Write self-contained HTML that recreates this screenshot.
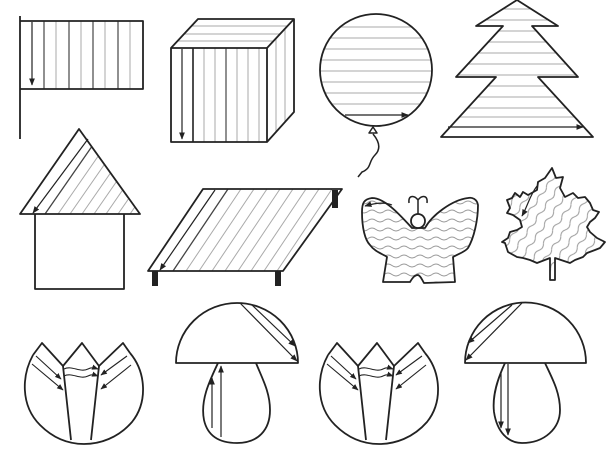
<!DOCTYPE html>
<html><head><meta charset="utf-8"><style>html,body{margin:0;padding:0;background:#fff}svg{display:block}</style></head>
<body>
<svg width="613" height="466" viewBox="0 0 613 466" xmlns="http://www.w3.org/2000/svg">
<defs>
<marker id="ar" viewBox="0 0 10 10" refX="9" refY="5" markerWidth="6" markerHeight="6" orient="auto"><path d="M0,1 L10,5 L0,9 Z" fill="#222"/></marker>
<pattern id="wav" width="16" height="9" patternUnits="userSpaceOnUse"><path d="M0,4.5 q4,-3 8,0 t8,0" fill="none" stroke="#999" stroke-width="1"/></pattern>
<pattern id="wav2" width="16" height="10" patternUnits="userSpaceOnUse" patternTransform="rotate(-55)"><path d="M0,5 q4,-3 8,0 t8,0" fill="none" stroke="#999" stroke-width="1"/></pattern>
<clipPath id="cb"><circle cx="376" cy="70" r="56"/></clipPath>
<clipPath id="ct"><polygon points="517,0 558,26 532,26 578,77 538,77 593,137 441,137 496,77 456,77 503,26 476,26"/></clipPath>
<clipPath id="cr"><polygon points="79,129 140,214 20,214"/></clipPath>
<clipPath id="ctb"><polygon points="203,189 342,189 283,271 148,271"/></clipPath>
</defs>
<g fill="none" stroke="#222" stroke-width="1.8" stroke-linejoin="round">

<!-- flag -->
<g stroke="#aaa" stroke-width="1"><line x1="56" y1="21" x2="56" y2="89"/><line x1="81" y1="21" x2="81" y2="89"/><line x1="105" y1="21" x2="105" y2="89"/><line x1="130" y1="21" x2="130" y2="89"/></g>
<g stroke="#555" stroke-width="1.3"><line x1="44" y1="21" x2="44" y2="89"/><line x1="69" y1="21" x2="69" y2="89"/><line x1="93" y1="21" x2="93" y2="89"/><line x1="118" y1="21" x2="118" y2="89"/></g>
<line x1="32" y1="22" x2="32" y2="85" stroke-width="1.2" marker-end="url(#ar)"/>
<line x1="20" y1="16" x2="20" y2="139"/>
<polyline points="20,21 143,21 143,89 20,89"/>

<!-- cube -->
<g stroke="#aaa" stroke-width="1">
<line x1="204" y1="48" x2="204" y2="142"/><line x1="215" y1="48" x2="215" y2="142"/><line x1="237" y1="48" x2="237" y2="142"/><line x1="248" y1="48" x2="248" y2="142"/><line x1="259" y1="48" x2="259" y2="142"/>
<line x1="276" y1="38" x2="276" y2="132"/><line x1="285" y1="29" x2="285" y2="122"/>
<line x1="191" y1="26" x2="288" y2="26"/><line x1="184" y1="34" x2="281" y2="34"/><line x1="178" y1="41" x2="274" y2="41"/>
</g>
<line x1="226" y1="48" x2="226" y2="142" stroke="#555" stroke-width="1.3"/>
<line x1="193" y1="48" x2="193" y2="142" stroke-width="1.6"/>
<line x1="182" y1="49" x2="182" y2="139" stroke-width="1.2" marker-end="url(#ar)"/>
<polygon points="171,48 267,48 267,142 171,142"/>
<polyline points="171,48 198,19 294,19 294,112 267,142"/>
<line x1="267" y1="48" x2="294" y2="19"/>

<!-- balloon -->
<g clip-path="url(#cb)" stroke="#aaa" stroke-width="1">
<line x1="310" y1="27" x2="440" y2="27"/><line x1="310" y1="38" x2="440" y2="38"/><line x1="310" y1="49" x2="440" y2="49"/><line x1="310" y1="60" x2="440" y2="60"/><line x1="310" y1="71" x2="440" y2="71"/><line x1="310" y1="82" x2="440" y2="82"/><line x1="310" y1="93" x2="440" y2="93"/><line x1="310" y1="104" x2="440" y2="104"/>
</g>
<line x1="345" y1="115" x2="408" y2="115" stroke-width="1.2" marker-end="url(#ar)"/>
<circle cx="376" cy="70" r="56"/>
<polygon points="373,127 369,133 377,133" stroke-width="1.5"/>
<path d="M373,134 C378,140 382,148 375,155 C368,162 372,168 362,172 L358,177" stroke-width="1.5"/>

<!-- tree -->
<g clip-path="url(#ct)" stroke="#aaa" stroke-width="1">
<line x1="430" y1="9" x2="600" y2="9"/><line x1="430" y1="20" x2="600" y2="20"/><line x1="430" y1="31" x2="600" y2="31"/><line x1="430" y1="42" x2="600" y2="42"/><line x1="430" y1="53" x2="600" y2="53"/><line x1="430" y1="64" x2="600" y2="64"/><line x1="430" y1="75" x2="600" y2="75"/><line x1="430" y1="86" x2="600" y2="86"/><line x1="430" y1="97" x2="600" y2="97"/><line x1="430" y1="108" x2="600" y2="108"/><line x1="430" y1="117" x2="600" y2="117"/>
</g>
<line x1="448" y1="127" x2="583" y2="127" stroke-width="1.2" marker-end="url(#ar)"/>
<polygon points="517,0 558,26 532,26 578,77 538,77 593,137 441,137 496,77 456,77 503,26 476,26"/>

<!-- house -->
<g clip-path="url(#cr)" stroke="#aaa" stroke-width="1">
<line x1="58" y1="214" x2="117" y2="129"/><line x1="70" y1="214" x2="129" y2="129"/><line x1="82" y1="214" x2="141" y2="129"/><line x1="94" y1="214" x2="153" y2="129"/><line x1="106" y1="214" x2="165" y2="129"/><line x1="118" y1="214" x2="177" y2="129"/><line x1="130" y1="214" x2="189" y2="129"/>
</g>
<line x1="45" y1="214" x2="104" y2="129" stroke="#444" stroke-width="1.3" clip-path="url(#cr)"/>
<line x1="88" y1="139" x2="33" y2="213" stroke-width="1.2" marker-end="url(#ar)"/>
<polygon points="79,129 140,214 20,214"/>
<polyline points="35,214 35,289 124,289 124,214"/>

<!-- table -->
<g clip-path="url(#ctb)" stroke="#aaa" stroke-width="1">
<line x1="186" y1="271" x2="241" y2="189"/><line x1="199" y1="271" x2="254" y2="189"/><line x1="212" y1="271" x2="267" y2="189"/><line x1="225" y1="271" x2="280" y2="189"/><line x1="238" y1="271" x2="293" y2="189"/><line x1="251" y1="271" x2="306" y2="189"/><line x1="264" y1="271" x2="319" y2="189"/><line x1="277" y1="271" x2="332" y2="189"/><line x1="290" y1="271" x2="345" y2="189"/>
</g>
<line x1="173" y1="271" x2="228" y2="189" stroke="#444" stroke-width="1.3"/>
<line x1="215" y1="190" x2="160" y2="270" stroke-width="1.2" marker-end="url(#ar)"/>
<polygon points="203,189 342,189 283,271 148,271"/>
<g fill="#222" stroke="none"><rect x="152" y="271" width="6" height="15"/><rect x="275" y="271" width="6" height="15"/><rect x="332" y="190" width="6" height="18"/></g>

<!-- butterfly -->
<path d="M412,228 C400,215 385,198 372,198 C364,199 362,203 362,212 C362,228 365,240 370,245 C375,252 383,254 387,257 L383,282 L410,282 C413,277 415,275 418,275 C421,276 422,280 424,283 L455,282 L453,257 C458,254 465,252 468,248 C474,238 478,220 478,205 C477,199 472,197 468,198 C452,200 432,215 425,228 Z" fill="url(#wav)"/>
<circle cx="418" cy="221" r="7" fill="#fff"/>
<path d="M418,214 L418,199 M418,200 C414,195 408,195 409,203 M418,200 C422,195 428,195 427,203" stroke-width="1.5"/>
<path d="M392,205 C385,202 375,203 365,206" stroke-width="1.2" marker-end="url(#ar)"/>

<!-- leaf -->
<polygon fill="url(#wav2)" points="552,168 556,178 563,177 560,188 565,197 573,193 578,198 585,197 590,203 593,210 599,212 595,218 590,222 587,227 590,232 597,238 605,242 600,248 595,250 587,253 583,257 575,260 570,263 555,258 555,280 550,280 550,258 537,263 530,260 523,258 517,257 508,252 505,243 502,242 508,238 510,232 517,230 522,227 520,220 513,215 507,213 510,208 507,200 512,198 515,193 520,197 523,192 528,195 537,190 538,182 545,178"/>
<path d="M537,186 C530,195 528,205 522,216" stroke-width="1.2" marker-end="url(#ar)"/>

<!-- tulips -->
<g id="tul">
<path d="M33,355 C22,375 20,405 40,425 C55,440 70,444 84,444 C100,444 118,438 132,422 C148,402 146,372 130,353"/>
<polyline points="33,355 42,343 63,366 82,343 99,366 123,343 130,353"/>
<line x1="63" y1="366" x2="71" y2="440"/><line x1="99" y1="366" x2="91" y2="440"/>
<path d="M64,369 C72,365 80,373 88,369 C92,367 95,368 98,369" stroke-width="1.1" marker-end="url(#ar)"/>
<path d="M64,376 C72,372 80,380 88,376 C92,374 95,375 98,376" stroke-width="1.1" marker-end="url(#ar)"/>
<line x1="36" y1="356" x2="61" y2="379" stroke-width="1.1" marker-end="url(#ar)"/>
<line x1="32" y1="364" x2="63" y2="390" stroke-width="1.1" marker-end="url(#ar)"/>
<line x1="127" y1="356" x2="101" y2="375" stroke-width="1.1" marker-end="url(#ar)"/>
<line x1="131" y1="365" x2="101" y2="389" stroke-width="1.1" marker-end="url(#ar)"/>
</g>
<use href="#tul" transform="translate(295,0)"/>

<!-- mushroom 1 -->
<path d="M176,363 A61,60 0 0 1 298,363 Z"/>
<path d="M218,363 C210,380 200,400 204,420 C208,438 222,443 237,443 C258,443 270,430 270,410 C270,392 262,378 256,363"/>
<line x1="240" y1="303" x2="297" y2="361" stroke-width="1.2" marker-end="url(#ar)"/>
<line x1="252" y1="305" x2="295" y2="346" stroke-width="1.2" marker-end="url(#ar)"/>
<line x1="221" y1="437" x2="221" y2="366" stroke-width="1.2" marker-end="url(#ar)"/>
<line x1="212" y1="428" x2="212" y2="378" stroke-width="1.2" marker-end="url(#ar)"/>

<!-- mushroom 2 -->
<path d="M465,363 A60,60 0 0 1 586,363 Z"/>
<path d="M505,363 C498,378 492,395 494,412 C497,432 508,443 522,443 C545,443 560,428 560,410 C560,392 552,378 545,363"/>
<line x1="522" y1="303" x2="466" y2="360" stroke-width="1.2" marker-end="url(#ar)"/>
<line x1="512" y1="305" x2="468" y2="343" stroke-width="1.2" marker-end="url(#ar)"/>
<line x1="508" y1="364" x2="508" y2="435" stroke-width="1.2" marker-end="url(#ar)"/>
<line x1="501" y1="372" x2="501" y2="428" stroke-width="1.2" marker-end="url(#ar)"/>
</g>
</svg>
</body></html>
